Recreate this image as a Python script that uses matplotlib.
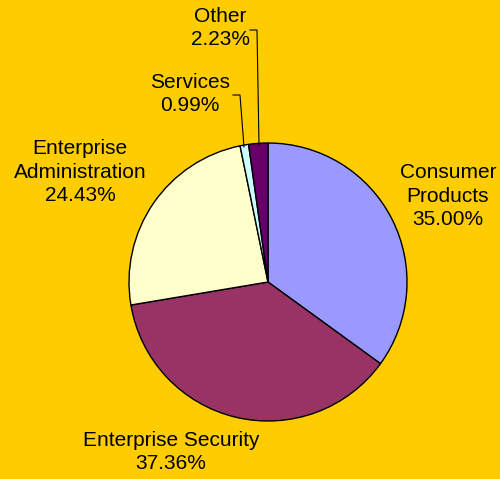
import matplotlib
matplotlib.use("Agg")
import matplotlib.pyplot as plt

categories = ["Consumer\nProducts", "Enterprise Security", "Enterprise\nAdministration", "Services", "Other"]
values = [35.00, 37.36, 24.43, 0.99, 2.23]
colors = ["#9999FF", "#993366", "#FFFFCC", "#CCFFFF", "#660066"]

plt.rcParams['font.family'] = ['Liberation Sans', 'DejaVu Sans']

W, H = 500, 479
fig = plt.figure(figsize=(W/100, H/100), dpi=100)
fig.patch.set_facecolor("#FFCC00")

cx, cy, r = 268, 282, 139
ax = fig.add_axes([(cx - r)/W, (H - cy - r)/H, 2*r/W, 2*r/H])
ax.set_facecolor("none")
wedges, _ = ax.pie(values, colors=colors, startangle=90, counterclock=False,
                   wedgeprops=dict(edgecolor="black", linewidth=1.0), radius=1.0)
ax.set_xlim(-1, 1)
ax.set_ylim(-1, 1)
ax.set_aspect("equal")
ax.axis("off")

def d(px, py):
    return ((px - cx)/r, (cy - py)/r)

label_pos = [(448, 196), (171, 452), (80, 172), (190, 94), (220, 28)]
for name, v, (px, py) in zip(categories, values, label_pos):
    x, y = d(px, py)
    ax.text(x, y, f"{name}\n{v:.2f}%", ha="center", va="center", fontsize=15,
            linespacing=1.3, clip_on=False)

# leader lines for small slices
leaders = [
    [(233, 95), (240, 95), (244, 147)],
    [(250, 30), (257, 30), (259, 145)],
]
for pts in leaders:
    xs, ys = zip(*[d(px, py) for px, py in pts])
    ax.plot(xs, ys, color="black", linewidth=0.8, clip_on=False)

fig.savefig("out.png", dpi=100, facecolor=fig.get_facecolor())
